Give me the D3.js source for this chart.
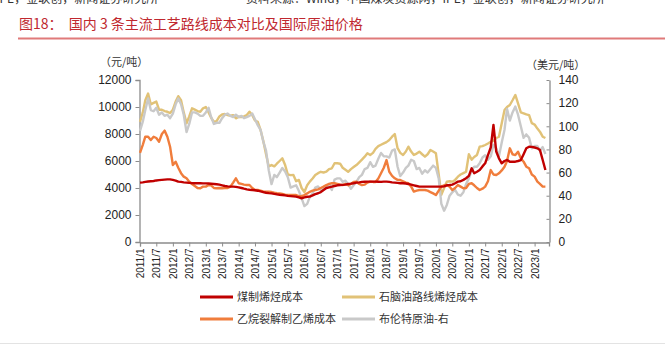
<!DOCTYPE html>
<html><head><meta charset="utf-8">
<script src="https://cdn.jsdelivr.net/npm/d3@7"></script>
<style>
html,body{margin:0;padding:0;background:#fff;}
svg{display:block;}
</style></head>
<body>
<svg id="c" width="665" height="346"></svg>
<script>
// ---- data (monthly, 2011/1 .. 2023/5) ----
const startMonth = "2011-01";
const coalCost = [4400,4420,4450,4480,4500,4520,4560,4580,4600,4620,4640,4640,
4600,4550,4470,4450,4420,4400,4380,4360,4350,4350,4350,4340,
4340,4330,4320,4300,4280,4250,4200,4150,4120,4100,4100,4080,
4050,4000,3950,3900,3870,3850,3830,3800,3750,3700,3650,3620,
3600,3560,3530,3500,3480,3450,3420,3400,3380,3360,3300,3240,
3300,3350,3360,3450,3550,3610,3700,3850,4000,4050,4100,4150,
4200,4220,4230,4250,4300,4320,4350,4400,4420,4450,4460,4470,
4470,4470,4470,4460,4450,4470,4470,4450,4420,4400,4380,4350,
4350,4330,4300,4250,4200,4150,4100,4100,4100,4100,4100,4100,
4100,4100,4100,4120,4200,4220,4250,4350,4470,4500,4600,4720,
4900,5460,5090,5200,5330,5600,5830,6440,7000,8670,6700,6200,
5830,6000,6080,5950,5950,5950,6000,6070,6500,6940,7060,7050,
7000,6940,6820,6070,5330];
const naphthaCost = [8900,9600,10500,11000,10200,10300,10400,9800,9800,9700,9650,9550,
9800,10400,10800,10500,9600,8800,9300,9900,9800,9700,9650,9900,
10000,9600,9200,8900,8950,9300,9450,9480,9400,9350,9400,9160,
9280,9250,9300,9400,9650,9400,9000,8900,8300,7500,6500,5600,
5700,5600,5800,6000,6200,5700,5000,4950,4960,4500,4600,4000,
3700,4200,4470,4700,4960,5100,5200,5150,5210,5400,5460,5830,
5830,5800,5500,5350,5200,5400,5550,5700,5900,6100,6320,6570,
6450,6600,6900,7100,7200,7300,7400,7550,7800,8000,6950,6600,
6450,6700,7060,6700,6450,6550,6690,6500,6320,6500,6815,6700,
6570,5000,3500,4000,4470,4500,4470,4600,4840,5000,5100,5200,
6500,6100,6300,6450,7060,7100,7185,7300,7430,7500,7700,7800,
8800,9780,10000,10150,10500,10890,10270,9600,9530,9450,9400,8800,
8700,8400,8170,7800,7700];
const ethaneCost = [6600,7200,7800,7800,7550,7800,7700,7430,8000,8250,7800,7060,
5700,5950,5500,5100,4840,4720,4470,4300,4150,4000,3980,4100,
4100,4220,4200,4000,3980,4000,3980,3990,4000,4100,4400,4720,
4350,4300,4250,4220,4220,4000,3850,3850,3800,3750,3730,3720,
3700,3650,3610,3600,3560,3500,3480,3480,3480,3480,3400,3400,
3480,3600,3720,3800,3850,3900,4000,4100,4220,4300,4350,4350,
4300,4250,4220,4300,4200,4300,4450,4470,4300,4220,4250,4400,
4470,4450,4450,4700,5090,5500,6070,5200,4900,4720,4600,4590,
4500,4400,4350,4100,3730,3800,3850,3850,3850,3800,3700,3600,
3480,3800,4100,4200,4220,4100,3850,4000,4220,4100,3980,4000,
4300,4350,4200,4000,3850,3950,4100,4500,5330,5000,4960,5090,
5300,5580,6000,6940,6500,6440,6690,6200,5950,5580,5460,5000,
4840,4470,4300,4100,4100];
const brentRight = [96,104,114,124,114,113,116,110,112,109,110,107,
111,119,124,119,110,95,102,112,112,111,109,109,
112,116,108,102,103,103,107,110,111,109,108,110,
108,109,107,108,109,111,106,101,97,87,79,62,
50,58,56,60,64,61,56,47,48,49,44,38,
31,33,39,42,47,48,45,46,47,50,45,54,
55,55,52,53,50,46,49,52,56,58,63,64,
69,65,66,72,77,74,74,73,79,80,65,57,
60,64,66,71,70,63,64,59,62,60,63,66,
64,55,33,27,32,40,43,45,41,40,43,50,
55,62,65,65,68,73,75,71,74,84,81,74,
86,97,115,105,112,117,110,100,90,93,90,81,
83,83,79,82,76];
const xTickLabels = ["2011/1","2011/7","2012/1","2012/7","2013/1","2013/7","2014/1","2014/7",
"2015/1","2015/7","2016/1","2016/7","2017/1","2017/7","2018/1","2018/7","2019/1","2019/7",
"2020/1","2020/7","2021/1","2021/7","2022/1","2022/7","2023/1"];
const leftTicks = [0,2000,4000,6000,8000,10000,12000];
const rightTicks = [0,20,40,60,80,100,120,140];
const seriesNames = ["煤制烯烃成本","石脑油路线烯烃成本","乙烷裂解制乙烯成本","布伦特原油-右"];
const seriesColors = ["#c00000","#e1c277","#f07d3c","#c9c9c9"];
const titleText = "图18：  国内 3 条主流工艺路线成本对比及国际原油价格";

// ---- build ----
const svg = d3.select("#c");
const W = 665, H = 346;
svg.append("rect").attr("width",W).attr("height",H).attr("fill","#fff");

const cjk = "'Noto Sans CJK SC','Noto Sans',sans-serif";
const latin = "'Liberation Sans',Arial,sans-serif";

// cut-off source line at top
svg.append("text").attr("x",-4).attr("y",3).attr("font-family",cjk).attr("font-size",12).attr("fill","#333")
  .text("IPE，金联创，新闻证券研究所");
svg.append("text").attr("x",246).attr("y",3).attr("font-family",cjk).attr("font-size",12).attr("fill","#333")
  .text("资料来源：Wind，中国煤炭资源网，IPE，金联创，新闻证券研究所");

// title
svg.append("text").attr("x",19).attr("y",29).attr("font-family",cjk).attr("font-size",14)
  .attr("fill","#c0282f").attr("xml:space","preserve").style("white-space","pre").text(titleText);
svg.append("line").attr("x1",18).attr("x2",665).attr("y1",38.5).attr("y2",38.5)
  .attr("stroke","#e07a7a").attr("stroke-width",2);

const parseM = d3.timeParse("%Y-%m");
const parseL = d3.timeParse("%Y/%m");
const t0 = parseM(startMonth);
const dates = coalCost.map((_,i)=>d3.timeMonth.offset(t0,i));

const x = d3.scaleTime().domain([t0, new Date(2023,5,10)]).range([140,549]);
const yL = d3.scaleLinear().domain([0,12000]).range([242,80]);
const yR = d3.scaleLinear().domain([0,140]).range([242,80]);

const axisColor = "#8c8c8c";

// left axis
const gl = svg.append("g").attr("transform","translate(139.5,0)")
  .call(d3.axisLeft(yL).tickValues(leftTicks).tickSize(4).tickFormat(d3.format("d")));
gl.select(".domain").attr("stroke",axisColor).attr("stroke-width",1.3);
gl.selectAll(".tick line").attr("stroke",axisColor);
gl.selectAll(".tick text").attr("font-family",latin).attr("font-size",12).attr("fill","#222").attr("x",-8);

// right axis
const gr = svg.append("g").attr("transform","translate(549.5,0)")
  .call(d3.axisRight(yR).tickValues(rightTicks).tickSize(0).tickFormat(d3.format("d")));
gr.select(".domain").attr("stroke",axisColor).attr("stroke-width",1.3);
gr.selectAll(".tick line").attr("x1",-3).attr("x2",0).attr("stroke",axisColor);
gr.selectAll(".tick text").attr("font-family",latin).attr("font-size",12).attr("fill","#222").attr("x",9);

// bottom axis
const gb = svg.append("g").attr("transform","translate(0,242.5)")
  .call(d3.axisBottom(x).tickValues(xTickLabels.map(parseL)).tickSize(4).tickFormat(d3.timeFormat("%Y/%-m")));
gb.select(".domain").attr("stroke",axisColor).attr("stroke-width",1.3);
gb.selectAll(".tick line").attr("stroke",axisColor);
gb.selectAll(".tick text").attr("font-family",latin).attr("font-size",10).attr("fill","#222")
  .attr("transform","rotate(-90)").attr("text-anchor","end").attr("x",-6).attr("y",0).attr("dy","0.35em");

// units
svg.append("text").attr("x",100).attr("y",66).attr("font-family",cjk).attr("font-size",11).attr("fill","#333").text("（元/吨）");
svg.append("text").attr("x",526).attr("y",69).attr("font-family",cjk).attr("font-size",11).attr("fill","#333").text("（美元/吨）");

// lines
const lineL = d3.line().x((d,i)=>x(dates[i])).y(d=>yL(d)).curve(d3.curveLinear);
const lineR = d3.line().x((d,i)=>x(dates[i])).y(d=>yR(d)).curve(d3.curveLinear);
const order = [
  {data:naphthaCost, gen:lineL, c:seriesColors[1]},
  {data:brentRight, gen:lineR, c:seriesColors[3]},
  {data:ethaneCost, gen:lineL, c:seriesColors[2]},
  {data:coalCost, gen:lineL, c:seriesColors[0]}
];
order.forEach(s=>{
  svg.append("path").attr("d",s.gen(s.data)).attr("fill","none").attr("stroke",s.c)
    .attr("stroke-width",2.4).attr("stroke-linejoin","round");
});

// legend
const legPos = [[200,297],[342,297],[200,319],[342,319]];
seriesNames.forEach((n,i)=>{
  const [lx,ly] = legPos[i];
  svg.append("line").attr("x1",lx).attr("x2",lx+33).attr("y1",ly).attr("y2",ly)
    .attr("stroke",seriesColors[i]).attr("stroke-width",3);
  svg.append("text").attr("x",lx+37).attr("y",ly+4).attr("font-family",cjk).attr("font-size",11)
    .attr("fill","#333").text(n);
});

// bottom rule
svg.append("line").attr("x1",0).attr("x2",665).attr("y1",343.5).attr("y2",343.5).attr("stroke","#e3e3e3").attr("stroke-width",1);
</script>
</body></html>
